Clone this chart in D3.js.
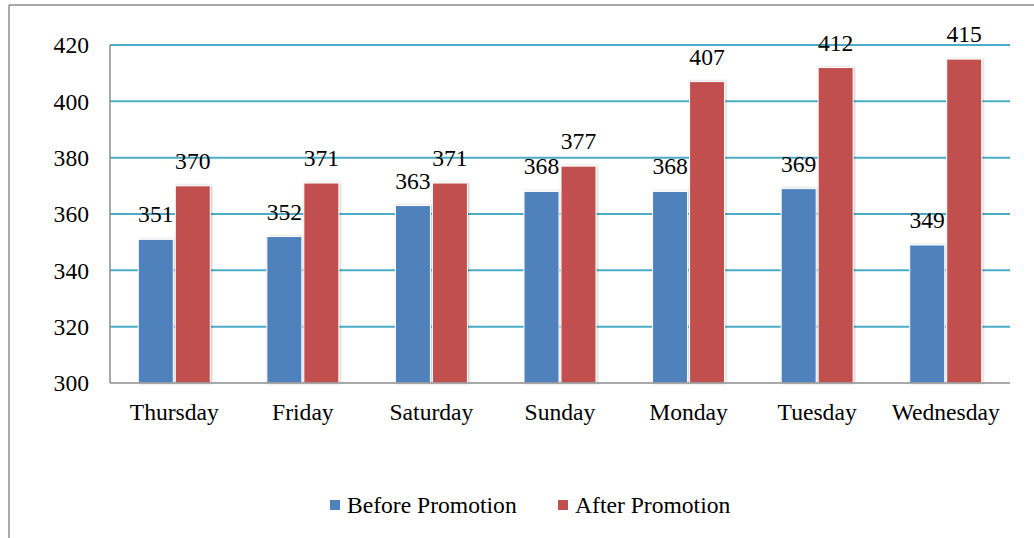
<!DOCTYPE html>
<html>
<head>
<meta charset="utf-8">
<script src="https://cdn.jsdelivr.net/npm/d3@7"></script>
<style>
  html, body { margin: 0; padding: 0; background: #fff; }
  svg { display: block; }
</style>
</head>
<body>
<svg id="chart" width="1034" height="538"></svg>
<script>
const days = ["Thursday", "Friday", "Saturday", "Sunday", "Monday", "Tuesday", "Wednesday"];
const beforePromotion = [351, 352, 363, 368, 368, 369, 349];
const afterPromotion = [370, 371, 371, 377, 407, 412, 415];
const seriesNames = ["Before Promotion", "After Promotion"];
const seriesColors = ["#4f81bd", "#c0504d"];
const yTicks = [300, 320, 340, 360, 380, 400, 420];

(function () {
const FONT = "'Liberation Serif', 'Times New Roman', Times, serif";
const svg = d3.select("#chart").style("font-family", FONT).attr("font-family", FONT);
const W = 1034, H = 538;
const mLeft = 110, mRight = 1010, mTop = 45, mBottom = 383;

// outer frame (left + top)
svg.append("line").attr("x1", 9).attr("y1", 5).attr("x2", 9).attr("y2", H)
  .attr("stroke", "#8c8c8c").attr("stroke-width", 1.5);
svg.append("line").attr("x1", 9).attr("y1", 5).attr("x2", W).attr("y2", 5)
  .attr("stroke", "#8c8c8c").attr("stroke-width", 1.5);

const y = d3.scaleLinear().domain([300, 420]).range([mBottom, mTop]);
const x0 = d3.scaleBand().domain(days).range([mLeft, mRight]).paddingInner(0.44).paddingOuter(0.22);
const x1 = d3.scaleBand().domain(seriesNames).range([0, x0.bandwidth()]).paddingInner(0.054);

const defs = svg.append("defs");
const f = defs.append("filter").attr("id", "shadow").attr("x", "-20%").attr("y", "-10%").attr("width", "140%").attr("height", "120%");
f.append("feDropShadow").attr("dx", 1).attr("dy", 0).attr("stdDeviation", 1.2).attr("flood-color", "#000").attr("flood-opacity", 0.25);

// gridlines
svg.append("g").selectAll("line").data(yTicks.filter(t => t > 300)).join("line")
  .attr("x1", mLeft).attr("x2", mRight)
  .attr("y1", d => y(d)).attr("y2", d => y(d))
  .attr("stroke", "#4bacc6").attr("stroke-width", 2);

const txt = sel => sel.style("font-family", FONT).attr("fill", "#000").attr("font-size", 23.6);

// y tick labels
svg.append("g").selectAll("text").data(yTicks).join("text")
  .attr("x", 89).attr("y", d => y(d)).attr("dy", "0.35em")
  .attr("text-anchor", "end").call(txt).text(d => d);

// bars
const data = days.map((d, i) => ({ day: d, vals: [beforePromotion[i], afterPromotion[i]] }));
const groups = svg.append("g").selectAll("g").data(data).join("g")
  .attr("transform", d => `translate(${x0(d.day)},0)`);

groups.selectAll("rect").data(d => d.vals.map((v, i) => ({ v, s: seriesNames[i], c: seriesColors[i] })))
  .join("rect")
  .attr("x", d => x1(d.s)).attr("width", x1.bandwidth())
  .attr("y", d => y(d.v)).attr("height", d => y(300) - y(d.v))
  .attr("fill", d => d.c).attr("stroke", "#fff").attr("stroke-width", 1)
  .attr("filter", "url(#shadow)");

groups.selectAll("text").data(d => d.vals.map((v, i) => ({ v, s: seriesNames[i] })))
  .join("text")
  .attr("x", d => x1(d.s) + x1.bandwidth() / 2)
  .attr("y", d => y(d.v) - 17)
  .attr("text-anchor", "middle").call(txt).text(d => d.v);

// axes lines
svg.append("line").attr("x1", mLeft).attr("x2", mLeft).attr("y1", mTop).attr("y2", mBottom)
  .attr("stroke", "#8c8c8c").attr("stroke-width", 1.5);
svg.append("line").attr("x1", mLeft).attr("x2", mRight).attr("y1", mBottom).attr("y2", mBottom)
  .attr("stroke", "#8c8c8c").attr("stroke-width", 1.5);

// category labels
svg.append("g").selectAll("text").data(days).join("text")
  .attr("x", d => x0(d) + x0.bandwidth() / 2).attr("y", 420)
  .attr("text-anchor", "middle").call(txt).text(d => d);

// legend
const legendX = [330, 558];
const lg = svg.append("g").selectAll("g").data(seriesNames).join("g")
  .attr("transform", (d, i) => `translate(${legendX[i]},0)`);
lg.append("rect").attr("x", 0).attr("y", 500).attr("width", 10).attr("height", 10)
  .attr("fill", (d, i) => seriesColors[i]);
lg.append("text").attr("x", 17).attr("y", 513).call(txt).text(d => d);
})();
</script>
</body>
</html>
